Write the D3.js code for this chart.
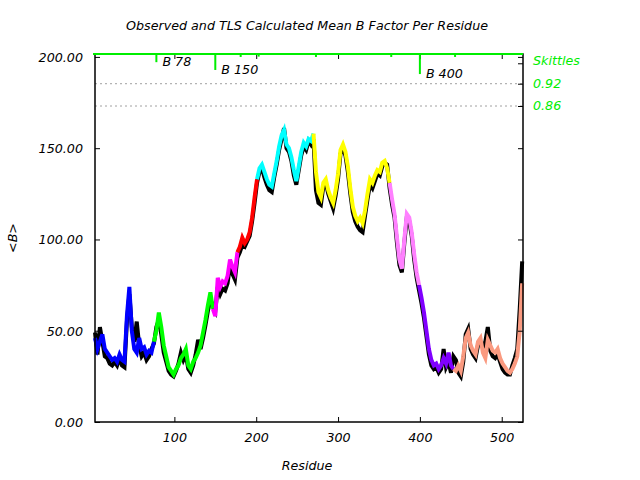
<!DOCTYPE html>
<html><head><meta charset="utf-8">
<script src="https://cdn.jsdelivr.net/npm/d3@7"></script>
<style>
body{margin:0;background:#fff}
text{font-family:"DejaVu Sans","Liberation Sans",sans-serif;font-style:italic}
</style>
</head><body>
<svg id="chart" width="640" height="480"></svg>
<script>
// ---- data ----
const residues = d3.range(3, 526, 3);
const calculated = [
  46,40,44,48,40,38,36,34,35,33,37,34,33,58,74,50,40,38,46,40,41,37,39,38,44,50,
  60,52,42,36,30,28,26,29,31,35,37,40,31,29,33,35,38,42,49,56,64,71,62,58,
  79,74,77,76,80,89,85,82,93,96,
  101,98,100,104,112,123,133,
  139,141,137,133,130,129,136,143,151,157,160,152,150,145,138,132,140,148,153,151,155,154,158,
  137,126,123,131,133,127,123,120,127,136,149,152,148,140,128,118,113,110,112,109,116,125,133,131,135,138,137,142,143,139,131,
  122,114,101,89,84,100,114,112,104,92,82,75,
  68,60,50,40,34,31,32,29,31,35,32,38,31,29,28,
  31,28,36,46,49,42,39,37,44,46,38,35,45,42,39,38,40,35,32,30,28,27,29,32,36,50,76
];
const observed = [
  49,37,52,44,36,35,32,31,33,31,35,31,30,55,70,52,44,55,42,36,38,34,36,40,43,52,
  56,48,38,33,28,26,25,28,32,38,34,37,29,27,31,37,45,40,46,53,61,67,64,61,
  74,70,73,72,76,86,81,78,90,93,
  97,96,99,102,110,120,131,
  137,139,134,130,127,126,134,141,149,155,161,150,148,143,135,130,138,146,151,149,154,152,155,
  127,120,119,129,131,125,121,117,124,133,147,150,146,137,125,115,110,107,105,104,113,122,130,128,132,136,135,140,142,141,128,
  119,112,98,86,82,98,112,110,102,89,79,72,
  65,57,47,37,31,29,30,27,29,40,30,33,27,36,34,
  27,25,33,48,51,40,37,35,42,44,41,44,52,39,36,35,37,33,29,27,26,26,31,35,40,62,88
];
const groupStarts = [3, 78, 150, 180, 202, 272, 366, 400, 444];
const groupEnds   = [78, 150, 180, 202, 272, 366, 400, 444, 526];
const groupColors = ["#0000ff","#00ff00","#ff00ff","#ff0000","#00ffff","#ffff00","#ff80ff","#8000ff","#fa9a80"];
const yTicks = [0, 50, 100, 150, 200];
const xTicks = [100, 200, 300, 400, 500];
const skittleRes = [78, 150, 181, 203, 273, 365, 400, 443];
const skittleVal = [0.978, 0.957, 0.992, 0.993, 0.992, 0.992, 0.946, 0.992];
const skittleLabel = ["B 78", "B 150", "", "", "", "", "B 400", ""];
const skittleLevels = [0.92, 0.86];

// ---- layout ----
const L = 95, R = 523, T = 54, B = 422;
const FS = 12.7;
const svg = d3.select("#chart");
const x = d3.scaleLinear().domain([3, 526]).range([L, R]);
const y = d3.scaleLinear().domain([0, 201.6]).range([B, T]);
const s = d3.scaleLinear().domain([0.86, 1.0]).range([106, T]);
const green = "#00ee00";

// skittle level dotted lines
svg.append("g").selectAll("line").data(skittleLevels).join("line")
  .attr("x1", L).attr("x2", R).attr("y1", d => s(d)).attr("y2", d => s(d))
  .attr("stroke", "#a0a0a0").attr("stroke-width", 1).attr("stroke-dasharray", "2,3");

// data lines
const pts = residues.map((r, i) => ({r, c: calculated[i], o: observed[i]}));
const lineO = d3.line().x(d => x(d.r)).y(d => y(d.o));
const lineC = d3.line().x(d => x(d.r)).y(d => y(d.c));
svg.append("path").datum(pts).attr("d", lineO)
  .attr("fill", "none").attr("stroke", "#000").attr("stroke-width", 4);
groupStarts.forEach((st, gi) => {
  let first = pts.findIndex(p => p.r >= st);
  if (first > 0) first -= 1;
  let last = -1;
  pts.forEach((p, i) => { if (p.r < groupEnds[gi]) last = i; });
  const seg = pts.slice(first, last + 1);
  svg.append("path").datum(seg).attr("d", lineC)
    .attr("fill", "none").attr("stroke", groupColors[gi]).attr("stroke-width", 4);
});

// axes
const fmt = d3.format(".2f");
const gx = svg.append("g").attr("transform", `translate(0,${B})`)
  .call(d3.axisBottom(x).tickValues(xTicks).tickSizeInner(-5).tickSizeOuter(0).tickPadding(11).tickFormat(d3.format("d")));
const gxt = svg.append("g").attr("transform", `translate(0,${T})`)
  .call(d3.axisTop(x).tickValues(xTicks).tickSizeInner(-5).tickSizeOuter(0).tickFormat(""));
const gy = svg.append("g").attr("transform", `translate(${L},0)`)
  .call(d3.axisLeft(y).tickValues(yTicks).tickSizeInner(-5).tickSizeOuter(0).tickPadding(12).tickFormat(fmt));
const gyr = svg.append("g").attr("transform", `translate(${R},0)`)
  .call(d3.axisRight(y).tickValues(yTicks).tickSizeInner(-5).tickSizeOuter(0).tickFormat(""));
const gsr = svg.append("g").attr("transform", `translate(${R},0)`)
  .call(d3.axisRight(s).tickValues(skittleLevels.concat([0.975])).tickSizeInner(-5).tickSizeOuter(0).tickFormat(""));
[gx, gxt, gy, gyr, gsr].forEach(g => {
  g.select(".domain").remove();
  g.selectAll("line").attr("stroke", "#000").attr("stroke-width", 1);
  g.selectAll("text").attr("font-size", FS).attr("fill", "#000")
    .attr("font-family", "DejaVu Sans, sans-serif").attr("font-style", "italic");
});
gy.selectAll("text").attr("dy", "0.35em");

// border
svg.append("rect").attr("x", L).attr("y", T).attr("width", R - L).attr("height", B - T)
  .attr("fill", "none").attr("stroke", "#000").attr("stroke-width", 1.5);

// skittles
svg.append("line").attr("x1", L - 2).attr("x2", R).attr("y1", T).attr("y2", T)
  .attr("stroke", green).attr("stroke-width", 2);
const sk = svg.append("g");
sk.selectAll("line").data(skittleRes).join("line")
  .attr("x1", d => x(d)).attr("x2", d => x(d))
  .attr("y1", T).attr("y2", (d, i) => s(skittleVal[i]))
  .attr("stroke", green).attr("stroke-width", 2);
sk.selectAll("text").data(skittleRes).join("text")
  .attr("x", d => x(d) + 6).attr("y", (d, i) => s(skittleVal[i]) + 4)
  .attr("font-size", FS).attr("fill", "#000")
  .text((d, i) => skittleLabel[i]);

svg.append("text").attr("x", 533).attr("y", 61).attr("dy", "0.35em")
  .attr("font-size", FS).attr("fill", green).text("Skittles");
svg.selectAll(".lvl").data(skittleLevels).join("text").attr("class", "lvl")
  .attr("x", 533).attr("y", d => s(d)).attr("dy", "0.35em")
  .attr("font-size", FS).attr("fill", green).text(d => d.toFixed(2));

// titles
svg.append("text").attr("x", 307).attr("y", 26).attr("dy", "0.35em").attr("text-anchor", "middle")
  .attr("font-size", FS).attr("fill", "#000")
  .text("Observed and TLS Calculated Mean B Factor Per Residue");
svg.append("text").attr("x", 307).attr("y", 466).attr("dy", "0.35em").attr("text-anchor", "middle")
  .attr("font-size", FS).attr("fill", "#000").text("Residue");
svg.append("text").attr("transform", "translate(13,238) rotate(-90)").attr("dy", "0.35em")
  .attr("text-anchor", "middle").attr("font-size", FS).attr("fill", "#000").text("<B>");
</script>
</body></html>
